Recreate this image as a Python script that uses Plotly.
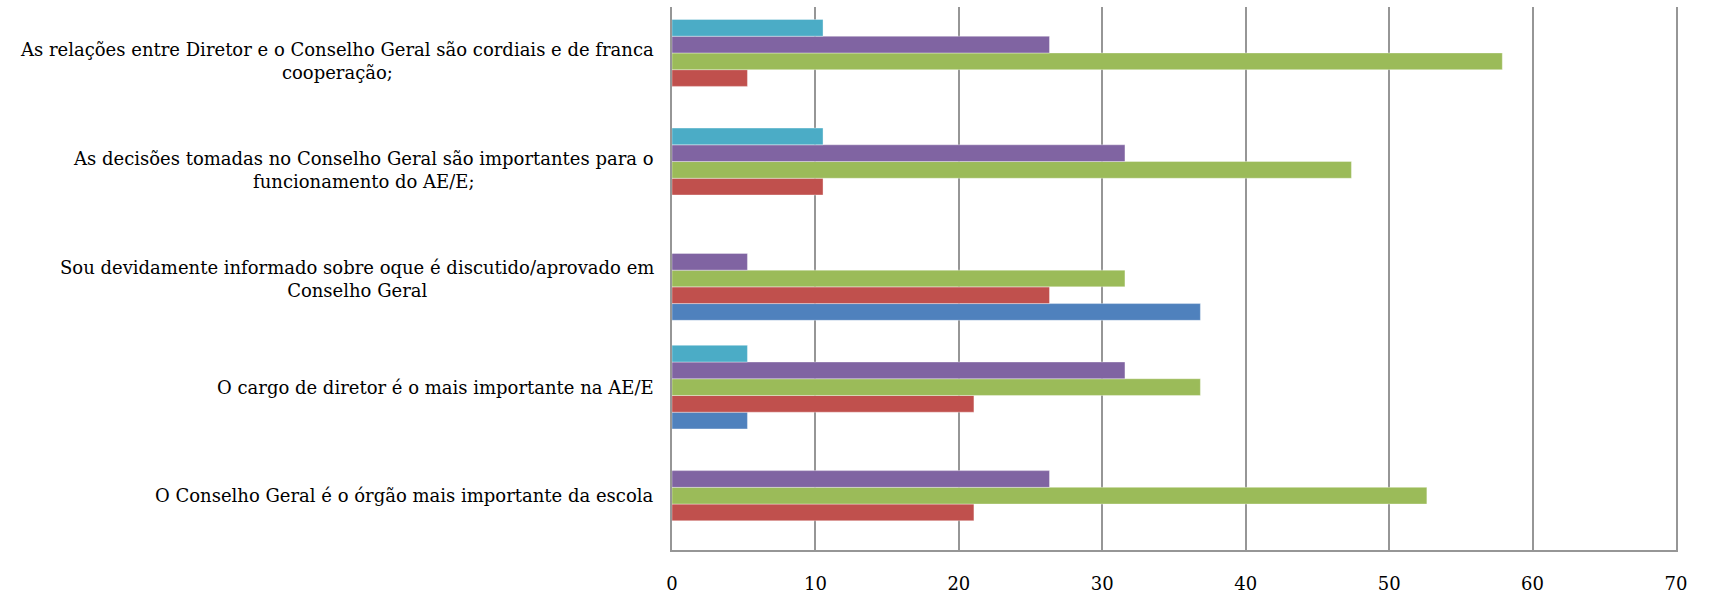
import plotly.graph_objects as go

# Statements (bottom to top), with the wrapped text used for the labels
categories = [
    "O Conselho Geral é o órgão mais importante da escola",
    "O cargo de diretor é o mais importante na AE/E",
    "Sou devidamente informado sobre oque é discutido/aprovado em<br>Conselho Geral",
    "As decisões tomadas no Conselho Geral são importantes para o<br>funcionamento do AE/E;",
    "As relações entre Diretor e o Conselho Geral são cordiais e de franca<br>cooperação;",
]

# Percentage of answers per response option (one list per series)
serie_1 = [0, 5.26, 36.84, 0, 0]
serie_2 = [21.05, 21.05, 26.32, 10.53, 5.26]
serie_3 = [52.63, 36.84, 31.58, 47.37, 57.89]
serie_4 = [26.32, 31.58, 5.26, 31.58, 26.32]
serie_5 = [0, 5.26, 0, 10.53, 10.53]

series = [
    ("Série 1", serie_1, "#4F81BD"),
    ("Série 2", serie_2, "#C0504D"),
    ("Série 3", serie_3, "#9BBB59"),
    ("Série 4", serie_4, "#8064A2"),
    ("Série 5", serie_5, "#4BACC6"),
]

x_ticks = [0, 10, 20, 30, 40, 50, 60, 70]

FONT = "DejaVu Serif"

fig = go.Figure()
for name, values, color in series:
    fig.add_trace(go.Bar(
        y=categories, x=values, name=name, orientation="h",
        marker=dict(color=color, line=dict(color="rgba(255,255,255,0.6)", width=0.6)),
    ))

# Category labels: right-aligned block next to the axis, lines centred
for cat in categories:
    fig.add_annotation(
        x=0, xref="paper", y=cat, yref="y", text=cat,
        xanchor="right", yanchor="middle", align="center", xshift=-16,
        showarrow=False,
        font=dict(family=FONT, size=18, color="#000000"),
    )

grid = "#969696"
fig.update_layout(
    width=1709, height=601,
    margin=dict(l=672, r=33, t=7, b=40),
    paper_bgcolor="white", plot_bgcolor="white",
    barmode="group", bargap=0.23, bargroupgap=0,
    showlegend=False,
    xaxis=dict(
        range=[0, 70], tickvals=x_ticks, ticktext=[str(v) for v in x_ticks],
        showgrid=True, gridcolor=grid, gridwidth=1.6, zeroline=False,
        showline=True, linecolor=grid, linewidth=1.6,
        ticks="", ticklabelstandoff=17,
        tickfont=dict(family=FONT, size=18, color="#000000"),
    ),
    yaxis=dict(
        categoryorder="array", categoryarray=categories,
        showticklabels=False, showgrid=False, zeroline=False,
        showline=True, mirror=True, linecolor=grid, linewidth=1.6, ticks="",
    ),
)

fig.write_html("out.html")
